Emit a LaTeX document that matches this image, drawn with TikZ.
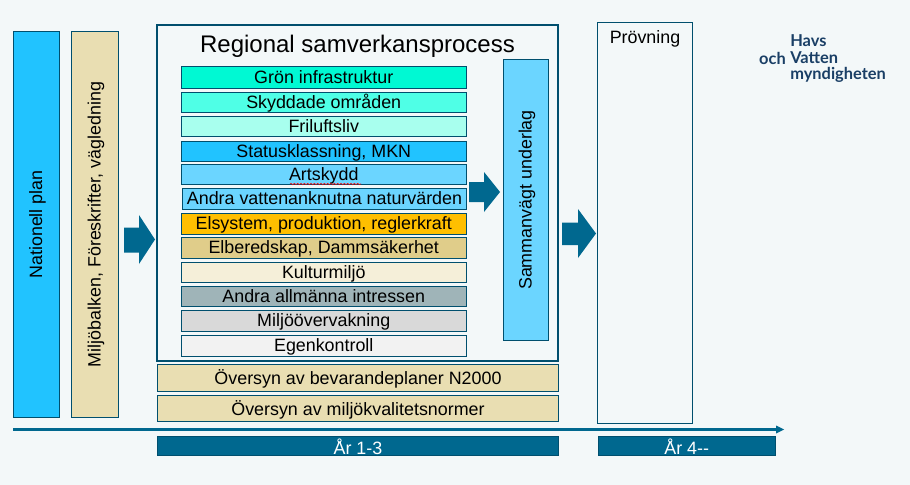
\documentclass[tikz,border=0pt]{standalone}
\usepackage{fontspec}
\setmainfont{Liberation Sans}
\newfontfamily\logofont{Lato}
\usetikzlibrary{decorations.pathmorphing}
\definecolor{bakgrund}{HTML}{F3F8F9}
\definecolor{havsbla}{HTML}{00688F}
\definecolor{kant}{HTML}{004F6E}
\definecolor{logobla}{HTML}{1A3F66}
\definecolor{planbla}{HTML}{21C3FF}
\definecolor{ljusbla}{HTML}{6BD5FF}
\definecolor{sand}{HTML}{E9DEB2}
\tikzset{
	ruta/.style={draw=kant, line width=0.75pt, inner sep=0pt, text=black, text height=10.3pt, text depth=1.7pt, font=\fontsize{13.4}{15}\selectfont},
	rad/.style={ruta, minimum width=213.75pt, minimum height=15pt},
	stapel/.style={ruta, rotate=90},
	bred/.style={ruta, fill=sand, minimum width=300.75pt, text height=12pt, text depth=1.6pt},
	ar/.style={ruta, fill=havsbla, text=white, minimum height=14.25pt, text height=12pt, text depth=0pt},
	pil/.style={fill=havsbla, draw=none},
	logo/.style={text=logobla, inner sep=0pt, font=\logofont\bfseries\fontsize{12.3}{12}\selectfont},
}
\begin{document}
\begin{tikzpicture}[x=0.75pt, y=-0.75pt, line join=miter]
	\useasboundingbox[fill=bakgrund] (0,0) rectangle (910,485);
	% vänster
	\node[stapel, fill=planbla, minimum width=289.5pt, minimum height=34.5pt] (plan) at (36.5,224.5) {Nationell plan};
	\node[stapel, fill=sand, minimum width=289.5pt, minimum height=35.25pt] (balk) at (95,224.5) {Miljöbalken, Föreskrifter, vägledning};
	% ram
	\node[draw=kant, line width=1.5pt, minimum width=301pt, minimum height=252pt, inner sep=0pt] (ram) at (357.5,193) {};
	\node[font=\fontsize{18}{20}\selectfont] (rubrik) at (357.5,46.5) {Regional samverkansprocess};
	\foreach \n/\y/\h/\f/\t in {
		gron/77.5/16.5/00F9D3/Grön infrastruktur,
		skydd/102.5/15/4FFFE6/Skyddade områden,
		fri/126.5/15/A8FFEE/Friluftsliv,
		status/151.5/15/21C3FF/{Statusklassning, MKN},
		art/174.5/15/6BD5FF/Artskydd,
		el/224/15.75/FFBF00/{Elsystem, produktion, reglerkraft},
		bered/248/15.75/E0CD8A/{Elberedskap, Dammsäkerhet},
		kultur/272.5/15/F5EFD9/Kulturmiljö,
		allman/296.5/15/9FB4B8/Andra allmänna intressen,
		overv/321.25/15.4/D9D9D9/Miljöövervakning,
		egen/346/15.75/F2F2F2/Egenkontroll}
	{
		\definecolor{radfarg}{HTML}{\f}
		\node[rad, fill=radfarg, minimum height=\h pt] (\n) at (323.75,\y) {\t};
	}
	\node[rad, fill=ljusbla, minimum width=213pt, minimum height=15.75pt] (vatten) at (324.5,199) {Andra vattenanknutna naturvärden};
	\draw[red, line width=0.4pt, decorate, decoration={snake, amplitude=0.5pt, segment length=2.5pt}] (290,184) -- (361,184);
	% underlag
	\node[stapel, fill=ljusbla, minimum width=210.75pt, minimum height=33.75pt] (underlag) at (526,200) {Sammanvägt underlag};
	% översyn
	\node[bred, minimum height=20.25pt] (n2000) at (358,378) {Översyn av bevarandeplaner N2000};
	\node[bred, minimum height=19.5pt] (mkn) at (358,408.5) {Översyn av miljökvalitetsnormer};
	% prövning
	\node[ruta, minimum width=70.9pt, minimum height=300.75pt] (prov) at (645.25,223) {};
	\node[font=\fontsize{13.4}{15}\selectfont] (provtext) at (645,38.5) {Prövning};
	% tidslinje
	\draw[havsbla, line width=2.25pt] (13,429.5) coordinate (start) -- (777,429.5) coordinate (slut);
	\fill[havsbla] (776,425.5) -- (784,429.5) -- (776,433.5) -- cycle;
	\node[ar, minimum width=300.75pt] (ar1) at (358,446) {År 1-3};
	\node[ar, minimum width=132.75pt] (ar4) at (686.75,446) {År 4-{}-};
	% pilar
	\fill[pil] (124,227.5) -- (139,227.5) -- (139,215) -- (155,239.5) -- (139,264) -- (139,252.5) -- (124,252.5) -- cycle;
	\fill[pil] (469,182) -- (484,182) -- (484,172) -- (500,192) -- (484,212) -- (484,202) -- (469,202) -- cycle;
	\fill[pil] (562,222.5) -- (578,222.5) -- (578,209) -- (596,233.5) -- (578,258) -- (578,245) -- (562,245) -- cycle;
	% logotyp
	\node[logo, anchor=west] (havs) at (790,41) {Havs};
	\node[logo, anchor=west] (vattenlogo) at (790,58) {Vatten};
	\node[logo, anchor=east] (och) at (786,58) {och};
	\node[logo, anchor=west] (myndighet) at (790,75) {myndigheten};
\end{tikzpicture}
\end{document}
